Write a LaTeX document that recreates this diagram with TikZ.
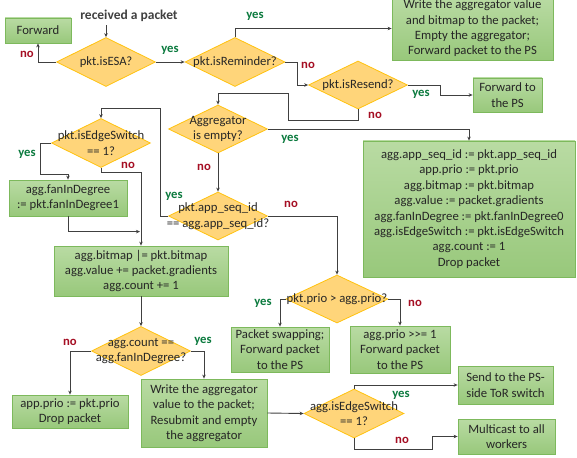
\documentclass[tikz,border=0pt]{standalone}
\usepackage{fontspec}
\setmainfont{Carlito}
\usepackage{xcolor}
\usepackage{tikz}
\usetikzlibrary{shapes.geometric}
\usetikzlibrary{arrows.meta}
\definecolor{boxtop}{HTML}{B9DBA3}
\definecolor{boxbot}{HTML}{98C87B}
\definecolor{boxline}{HTML}{7DB95C}
\definecolor{dfill}{HTML}{FFD57A}
\definecolor{dline}{HTML}{FFC20E}
\definecolor{flow}{HTML}{404040}
\definecolor{txt}{HTML}{262626}
\definecolor{yescol}{HTML}{0B7A3E}
\definecolor{nocol}{HTML}{A50F24}
\tikzset{box/.style={draw=boxline, top color=boxtop, bottom color=boxbot, line width=0.8pt,
   align=center, text=txt, inner sep=0pt},
 decision/.style={diamond, draw=dline, fill=dfill, line width=0.8pt, inner sep=0pt,
   minimum width=99pt, minimum height=49pt},
 every label/.style={align=center, text=txt},
 yes/.style={text=yescol, font=\fontsize{12.7}{15.4}\selectfont\bfseries},
 no/.style={text=nocol, font=\fontsize{12.7}{15.4}\selectfont\bfseries},
 flowline/.style={draw=flow, line width=0.9pt, -{Stealth[length=4pt,width=3.5pt]}},
 }

\begin{document}
\begin{tikzpicture}[x=1pt, y=-1pt, font=\fontsize{12.7}{15.4}\selectfont]
        \useasboundingbox (0, 0) rectangle (577, 457);
        \node[text=flow, font=\fontsize{13.5}{15.4}\selectfont\bfseries] (recv) at (129, 16) {received a packet};
        \node[box, minimum width=66pt, minimum height=25pt] (fwd) at (38, 30.5) {Forward};
        \node[decision, label=center:pkt.isESA?] (esa) at (106, 62) {};
        \node[decision, minimum width=100pt, label=center:pkt.isReminder?] (rem) at (235, 62) {};
        \node[box, minimum width=161pt, minimum height=63pt] (wrt) at (472.5, 28.5)
            {Write the aggregator value\\and bitmap to the packet;\\Empty the aggregator;\\Forward packet to the PS};
        \node[decision, minimum height=48pt, label=center:pkt.isResend?] (rsd) at (358, 85) {};
        \node[box, minimum width=69pt, minimum height=34pt] (fps) at (507.5, 95) {Forward to\\the PS};
        \node[decision, minimum height=48pt, label={center:Aggregator\\is empty?}] (emp) at (218, 129) {};
        \node[box, minimum width=212pt, minimum height=136pt] (init) at (469, 209)
            {agg.app\_seq\_id := pkt.app\_seq\_id\\app.prio := pkt.prio\\agg.bitmap := pkt.bitmap\\
             agg.value := packet.gradients\\agg.fanInDegree := pkt.fanInDegree0\\
             agg.isEdgeSwitch := pkt.isEdgeSwitch\\agg.count := 1\\Drop packet};
        \node[decision, minimum height=48pt, label={center:pkt.app\_seq\_id\\== agg.app\_seq\_id?}] (seq) at (218, 216) {};
        \node[decision, label={center:pkt.isEdgeSwitch\\== 1?}] (edg) at (101, 143) {};
        \node[box, minimum width=118pt, minimum height=36pt] (fan) at (68, 198) {agg.fanInDegree\\:= pkt.fanInDegree1};
        \node[box, minimum width=174pt, minimum height=50pt] (bmp) at (141, 271)
            {agg.bitmap |= pkt.bitmap\\agg.value += packet.gradients\\agg.count += 1};
        \node[decision, label={center:agg.count ==\\agg.fanInDegree?}] (cnt) at (141, 351) {};
        \node[box, minimum width=116pt, minimum height=33pt] (drp) at (70, 411.5) {app.prio := pkt.prio\\Drop packet};
        \node[box, minimum width=126pt, minimum height=68pt] (res) at (204, 413)
            {Write the aggregator\\value to the packet;\\Resubmit and empty\\the aggregator};
        \node[decision, minimum width=100pt, label={center:agg.isEdgeSwitch\\== 1?}] (ise) at (354, 413.5) {};
        \node[box, minimum width=95pt, minimum height=38pt] (snd) at (505.5, 385) {Send to the PS-\\side ToR switch};
        \node[box, minimum width=97pt, minimum height=35pt] (mlt) at (506.5, 436.5) {Multicast to all\\workers};
        \node[decision, minimum width=102pt, minimum height=48pt, label=center:pkt.prio > agg.prio?] (pri) at (337, 299) {};
        \node[box, minimum width=98pt, minimum height=45pt] (swp) at (280, 349.5) {Packet swapping;\\Forward packet\\to the PS};
        \node[box, minimum width=100pt, minimum height=47pt] (agp) at (400, 349.5) {agg.prio >{}>= 1\\Forward packet\\to the PS};

        \draw[flowline] (esa.north |- recv.south) -- (esa.north);
        \draw[flowline] (esa.west) -| (fwd.south);
        \draw[flowline] (esa.east) -- (rem.west);
        \draw[flowline] (rem.north) |- (wrt.west);
        \draw[flowline] (rem.east) -- ++(12, 0) |- (rsd.west);
        \draw[flowline] (rsd.east) -- ++(33, 0) |- (fps.west);
        \draw[flowline] (rsd.south) -- ++(0, 11) -| ++(-70, -27) -| (emp.north);
        \draw[flowline] (emp.east) -| (init.north);
        \draw[flowline] (emp.south) -- (seq.north);
        \draw[flowline] (seq.west) -| ++(-8, -108) -| (edg.north);
        \draw[flowline] (seq.east) -| (pri.north);
        \draw[flowline] (edg.west) -| ++(-11, 31) -| (fan.north);
        \draw[flowline] (edg.south) -- ++(0, 5) -| (bmp.north);
        \draw[flowline] (fan.south) |- ([yshift=14pt, xshift=-1pt]bmp.north);
        \draw[flowline] (bmp.south) -- (cnt.north);
        \draw[flowline] (cnt.west) -| (drp.north);
        \draw[flowline] (cnt.east) -| (res.north);
        \draw[flowline] (res.east) -- (ise.west);
        \draw[flowline] (ise.north) |- (snd.west);
        \draw[flowline] (ise.south) |- ++(78, 11) |- (mlt.west);
        \draw[flowline] (pri.west) -| (swp.north);
        \draw[flowline] (pri.east) -| (agp.north);

        \node[no] (no1) at (27, 54) {no};
        \node[yes] (yes1) at (170, 50) {yes};
        \node[yes] (yes2) at (255, 16) {yes};
        \node[no] (no2) at (308, 65) {no};
        \node[yes] (yes3) at (421, 94) {yes};
        \node[no] (no3) at (375, 115) {no};
        \node[yes] (yes4) at (290, 139) {yes};
        \node[no] (no4) at (204, 167) {no};
        \node[yes] (yes5) at (174, 196) {yes};
        \node[no] (no5) at (291, 204) {no};
        \node[yes] (yes6) at (27, 154) {yes};
        \node[no] (no6) at (128, 165) {no};
        \node[no] (no7) at (70, 342) {no};
        \node[yes] (yes7) at (203, 341) {yes};
        \node[yes] (yes8) at (263, 303) {yes};
        \node[no] (no8) at (415, 303) {no};
        \node[yes] (yes9) at (401, 395) {yes};
        \node[no] (no9) at (402, 440) {no};
    \end{tikzpicture}
\end{document}
